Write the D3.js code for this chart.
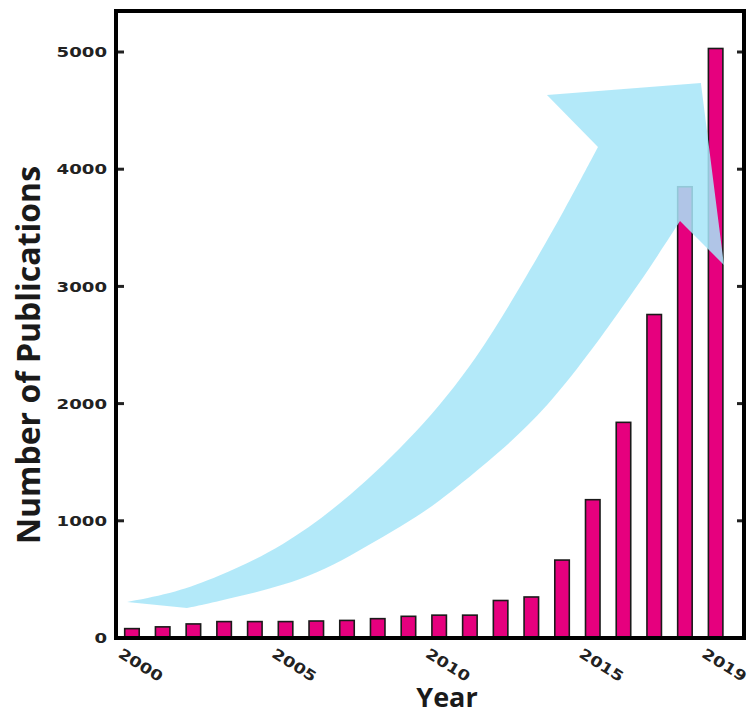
<!DOCTYPE html>
<html><head><meta charset="utf-8">
<script src="https://cdn.jsdelivr.net/npm/d3@7"></script>
<style>html,body{margin:0;padding:0;background:#fff}</style>
</head><body><svg id="c" width="749" height="715"></svg>
<script>
// ---- data ----
const years = [2000,2001,2002,2003,2004,2005,2006,2007,2008,2009,2010,2011,2012,2013,2014,2015,2016,2017,2018,2019];
const publications = [80,95,120,140,140,140,145,150,165,185,195,195,320,350,665,1180,1840,2760,3850,5030];
const yTickValues = [0,1000,2000,3000,4000,5000];
const xTickYears = [2000,2005,2010,2015,2019];
const xTitle = "Year";
const yTitle = "Number of Publications";
// decorative trend arrow, in data coordinates [year, publications]
const arrowUpper = [[1999.84,307],[2001.47,392],[2002.70,510],[2004.92,776],[2007.10,1203],[2009.28,1749],[2011.23,2372],[2012.96,3140],[2014.03,3626],[2015.17,4189]];
const arrowHead = [[2013.51,4633],[2018.52,4735],[2019.27,3183]];
const arrowLower = [[2017.84,3558],[2016.86,3157],[2015.89,2799],[2015.14,2517],[2013.51,1962],[2011.98,1587],[2010.35,1237],[2009.28,1032],[2008.17,862],[2007.10,700],[2006.02,555],[2004.92,452],[2003.84,375],[2002.70,307],[2001.79,256]];

// ---- layout ----
const svg = d3.select("#c");
const frame = {left:116, right:744, top:11, bottom:638};

const x = d3.scaleBand().domain(years).range([116.6, 731]).paddingInner(0.528).paddingOuter(0.264);
const xLin = d3.scaleLinear().domain([years[0], years[years.length-1]])
  .range([x(years[0]) + x.bandwidth()/2, x(years[years.length-1]) + x.bandwidth()/2]);
const y = d3.scaleLinear().domain([0, 5000]).range([638, 52]);

// bars
svg.append("g").selectAll("rect").data(years).join("rect")
  .attr("x", d => x(d))
  .attr("width", x.bandwidth())
  .attr("y", (d,i) => y(publications[i]))
  .attr("height", (d,i) => y(0) - y(publications[i]))
  .attr("fill", "#e6007e")
  .attr("stroke", "#1a1a1a")
  .attr("stroke-width", 1.6);

// arrow
const line = d3.line().x(d => xLin(d[0])).y(d => y(d[1])).curve(d3.curveBasis);
const straight = d3.line().x(d => xLin(d[0])).y(d => y(d[1]));
const dPath = line(arrowUpper)
  + straight(arrowHead).replace(/^M/, "L")
  + line(arrowLower).replace(/^M/, "L") + "Z";
svg.append("path").attr("d", dPath).attr("fill", "#a6e5f8").attr("fill-opacity", 0.86);

// ticks (inward, left & right)
const tickG = svg.append("g");
tickG.selectAll("line.l").data(yTickValues.slice(1)).join("line")
  .attr("x1", frame.left).attr("x2", frame.left + 8)
  .attr("y1", d => y(d)).attr("y2", d => y(d))
  .attr("stroke", "#222").attr("stroke-width", 3);
tickG.selectAll("line.r").data(yTickValues.slice(1)).join("line")
  .attr("x1", frame.right - 7).attr("x2", frame.right)
  .attr("y1", d => y(d)).attr("y2", d => y(d))
  .attr("stroke", "#222").attr("stroke-width", 3);

// frame
svg.append("rect")
  .attr("x", frame.left).attr("y", frame.top)
  .attr("width", frame.right - frame.left).attr("height", frame.bottom - frame.top)
  .attr("fill", "none").attr("stroke", "#000").attr("stroke-width", 4);

// y tick labels
svg.append("g").selectAll("text").data(yTickValues).join("text")
  .attr("transform", d => `translate(107,${y(d)}) scale(1.25,1)`)
  .attr("text-anchor", "end")
  .attr("dy", "0.36em")
  .attr("font-family", "DejaVu Sans")
  .attr("font-weight", "bold")
  .attr("font-size", 14.5)
  .attr("fill", "#222")
  .text(d => d);

// x tick labels (rotated)
svg.append("g").selectAll("text").data(xTickYears).join("text")
  .attr("transform", d => `translate(${xLin(d) - 9},${647}) rotate(32) scale(1.22,1)`)
  .attr("text-anchor", "start")
  .attr("dy", "0.75em")
  .attr("font-family", "DejaVu Sans")
  .attr("font-weight", "bold")
  .attr("font-size", 14.5)
  .attr("fill", "#222")
  .text(d => d);

// titles
svg.append("text")
  .attr("transform", "translate(40,355) rotate(-90)")
  .attr("text-anchor", "middle")
  .attr("font-family", "Open Sans")
  .attr("font-weight", "bold")
  .attr("font-size", 32)
  .attr("fill", "#1a1a1a")
  .text(yTitle);
svg.append("text")
  .attr("x", 447).attr("y", 707)
  .attr("text-anchor", "middle")
  .attr("font-family", "Open Sans")
  .attr("font-weight", "bold")
  .attr("font-size", 27)
  .attr("fill", "#1a1a1a")
  .text(xTitle);
</script>
</body></html>
